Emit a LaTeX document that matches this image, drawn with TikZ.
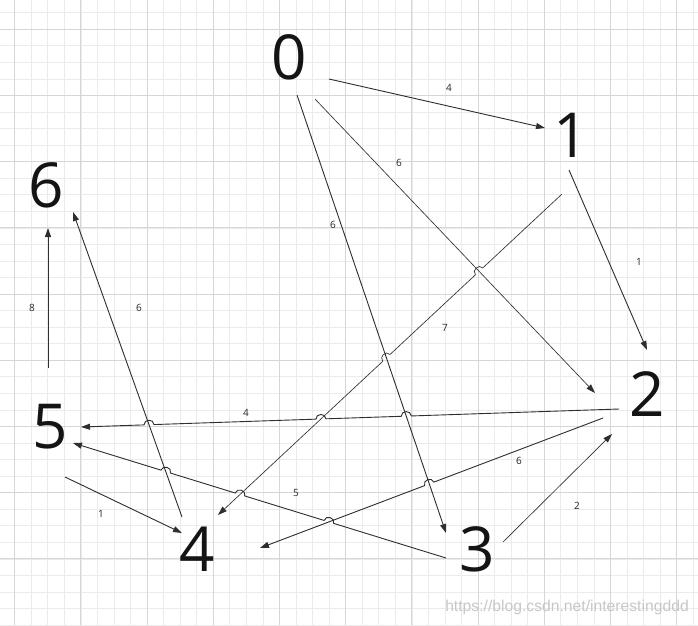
\documentclass[tikz,border=0pt]{standalone}
\usepackage{fontspec}
\setmainfont{Open Sans}
\newfontfamily\wmfont{Liberation Sans}
\usetikzlibrary{arrows.meta,calc,intersections}
\newcommand\mkhop[3]{%
  \coordinate (#1a) at ($(#1)!5pt!(#2)$);
  \coordinate (#1b) at ($(#1)!5pt!(#3)$);
  \coordinate (#1c) at ($(#1a)!6pt!-90:(#1b)$);
  \coordinate (#1d) at ($(#1b)!6pt!90:(#1a)$);
}
\begin{document}
\begin{tikzpicture}[x=1pt,y=-1pt,
  big/.style={font=\fontsize{62}{62}\selectfont, text=black!92, inner sep=0pt},
  lbl/.style={font=\fontsize{10}{10}\selectfont, text=black!85, inner sep=0pt},
  edge/.style={draw=black!82, line width=0.9pt, -{Triangle[length=9pt,width=6pt]}},
  thinedge/.style={edge, line width=0.65pt},
  minorgrid/.style={draw=black!8, line width=0.8pt},
  majorgrid/.style={draw=black!16, line width=0.9pt},
]
\useasboundingbox (0,0) rectangle (698,625);
\fill[white] (0,0) rectangle (698,625);
% grid
\foreach \k in {0,...,41} \draw[minorgrid] ({14.7+16.55*\k},0) -- ++(0,625);
\foreach \k in {-1,...,36} \draw[minorgrid] (0,{29.3+16.55*\k}) -- ++(698,0);
\foreach \k in {0,...,10} \draw[majorgrid] ({14.7+66.2*\k},0) -- ++(0,625);
\foreach \k in {0,...,8} \draw[majorgrid] (0,{29.3+66.2*\k}) -- ++(698,0);

% nodes
\node[big] (n0) at (289,57) {0};
\node[big] (n1) at (571,135) {1};
\node[big] (n2) at (647,394) {2};
\node[big] (n3) at (477,549) {3};
\node[big] (n4) at (197,549) {4};
\node[big] (n5) at (50,427) {5};
\node[big] (n6) at (46,185) {6};

% edge end points
\coordinate (s01) at (329,79);  \coordinate (t01) at (545,128);
\coordinate (s02) at (315,99);  \coordinate (t02) at (595,393);
\coordinate (s03) at (297,95);  \coordinate (t03) at (446,533);
\coordinate (s12) at (569,170); \coordinate (t12) at (647,350);
\coordinate (s14) at (562,194); \coordinate (t14) at (218,515);
\coordinate (s25) at (619,409); \coordinate (t25) at (81,427);
\coordinate (s24) at (603,418); \coordinate (t24) at (260,548);
\coordinate (s32) at (503,542); \coordinate (t32) at (612,434);
\coordinate (s35) at (446,558); \coordinate (t35) at (73,443);
\coordinate (s54) at (65,477);  \coordinate (t54) at (182,533);
\coordinate (s56) at (48,368);  \coordinate (t56) at (48,228);
\coordinate (s46) at (182,517); \coordinate (t46) at (73,212);

% invisible paths for crossings
\path[name path=p02] (s02) -- (t02);
\path[name path=p03] (s03) -- (t03);
\path[name path=p14] (s14) -- (t14);
\path[name path=p25] (s25) -- (t25);
\path[name path=p24] (s24) -- (t24);
\path[name path=p35] (s35) -- (t35);
\path[name path=p46] (s46) -- (t46);
\path[name intersections={of=p14 and p02, by=xa}];
\path[name intersections={of=p14 and p03, by=xb}];
\path[name intersections={of=p25 and p03, by=xc}];
\path[name intersections={of=p25 and p14, by=xd}];
\path[name intersections={of=p25 and p46, by=xe}];
\path[name intersections={of=p24 and p03, by=xf}];
\path[name intersections={of=p35 and p24, by=xg}];
\path[name intersections={of=p35 and p14, by=xh}];
\path[name intersections={of=p35 and p46, by=xi}];
\mkhop{xa}{s14}{t14}
\mkhop{xb}{s14}{t14}
\mkhop{xc}{s25}{t25}
\mkhop{xd}{s25}{t25}
\mkhop{xe}{s25}{t25}
\mkhop{xf}{s24}{t24}
\mkhop{xg}{s35}{t35}
\mkhop{xh}{s35}{t35}
\mkhop{xi}{s35}{t35}

% edges
\draw[edge] (s01) -- (t01);
\draw[thinedge] (s02) -- (t02);
\draw[edge] (s03) -- (t03);
\draw[edge] (s12) -- (t12);
\draw[thinedge] (s14) -- (xaa) .. controls (xac) and (xad) .. (xab)
  -- (xba) .. controls (xbc) and (xbd) .. (xbb) -- (t14);
\draw[edge] (s25) -- (xca) .. controls (xcc) and (xcd) .. (xcb)
  -- (xda) .. controls (xdc) and (xdd) .. (xdb)
  -- (xea) .. controls (xec) and (xed) .. (xeb) -- (t25);
\draw[edge] (s24) -- (xfa) .. controls (xfc) and (xfd) .. (xfb) -- (t24);
\draw[thinedge] (s32) -- (t32);
\draw[edge] (s35) -- (xga) .. controls (xgc) and (xgd) .. (xgb)
  -- (xha) .. controls (xhc) and (xhd) .. (xhb)
  -- (xia) .. controls (xic) and (xid) .. (xib) -- (t35);
\draw[edge] (s54) -- (t54);
\draw[edge] (s56) -- (t56);
\draw[edge] (s46) -- (t46);

% labels
\node[lbl] (l01) at (449,88) {4};
\node[lbl] (l02) at (399,163) {6};
\node[lbl] (l03) at (333,225) {6};
\node[lbl] (l12) at (639,262) {1};
\node[lbl] (l14) at (445,328) {7};
\node[lbl] (l25) at (246,413) {4};
\node[lbl] (l24) at (519,461) {6};
\node[lbl] (l32) at (577,506) {2};
\node[lbl] (l35) at (296,493) {5};
\node[lbl] (l54) at (101,514) {1};
\node[lbl] (l56) at (32,308) {8};
\node[lbl] (l46) at (139,308) {6};

% watermark
\node[font=\wmfont\fontsize{15.7}{16}\selectfont, text=black!22, inner sep=0pt] (wm) at (567,607) {https://blog.csdn.net/interestingddd};
\end{tikzpicture}
\end{document}
